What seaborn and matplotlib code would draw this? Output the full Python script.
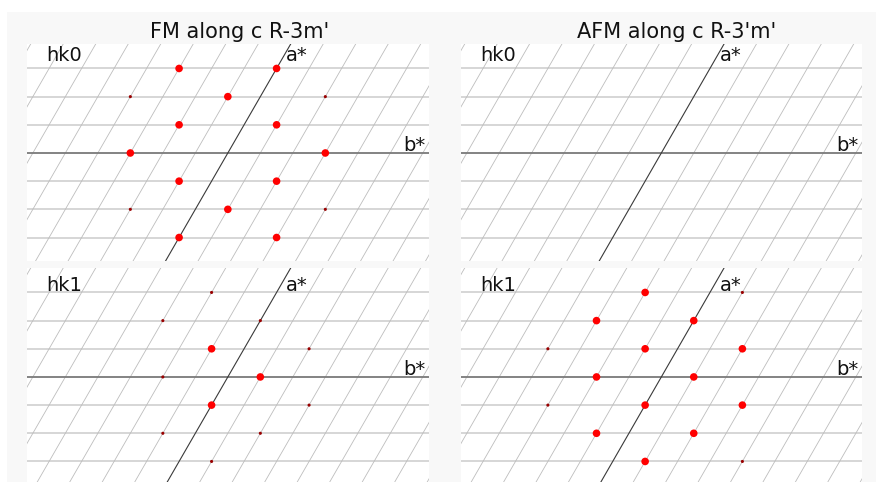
import matplotlib
matplotlib.use('Agg')
import matplotlib.pyplot as plt
import seaborn as sns
import pandas as pd
import numpy as np

sns.set_style('white')
plt.rcParams['font.family'] = ['DejaVu Sans']

# titles and labels of the four panels
titles = ["FM along c R-3m'", "AFM along c R-3'm'"]
layers = ['hk0', 'hk0', 'hk1', 'hk1']

# reflections per panel: h, k and strength ('s' strong, 'w' weak)
fm_hk0_h = [3, 3, 2, 2, 2, 1, 1, 0, 0, -1, -1, -2, -2, -2, -3, -3]
fm_hk0_k = [-3, 0, -4, -1, 2, -2, 1, -3, 3, -1, 2, -2, 1, 4, 0, 3]
fm_hk0_i = ['s', 's', 'w', 's', 'w', 's', 's', 's', 's', 's', 's', 'w', 's', 'w', 's', 's']

afm_hk0_h = []
afm_hk0_k = []
afm_hk0_i = []

fm_hk1_h = [3, 2, 2, 1, 1, 0, 0, -1, -1, -2, -2, -3]
fm_hk1_k = [-2, -3, 0, -1, 2, -2, 1, 0, 3, -1, 2, 1]
fm_hk1_i = ['w', 'w', 'w', 's', 'w', 'w', 's', 's', 'w', 'w', 'w', 'w']

afm_hk1_h = [3, 3, 2, 2, 1, 1, 1, 0, 0, -1, -1, -1, -2, -2, -3, -3]
afm_hk1_k = [-2, 1, -3, 0, -4, -1, 2, -2, 1, -3, 0, 3, -1, 2, 1, 4]
afm_hk1_i = ['s', 'w', 's', 's', 'w', 's', 's', 's', 's', 'w', 's', 's', 's', 's', 's', 'w']

panels = [
    (fm_hk0_h, fm_hk0_k, fm_hk0_i),
    (afm_hk0_h, afm_hk0_k, afm_hk0_i),
    (fm_hk1_h, fm_hk1_k, fm_hk1_i),
    (afm_hk1_h, afm_hk1_k, afm_hk1_i),
]

c60 = 0.5
s60 = np.sqrt(3) / 2

fig = plt.figure(figsize=(8.76, 4.82), dpi=100, facecolor='white')
fig.patches.append(plt.Rectangle((7 / 876, 0), 1, 1 - 12 / 482, transform=fig.transFigure,
                                 facecolor='#f8f8f8', edgecolor='none', zorder=-10))

boxes = [
    [27 / 876, 1 - 261 / 482, 402 / 876, 217 / 482],
    [461 / 876, 1 - 261 / 482, 401 / 876, 217 / 482],
    [27 / 876, 0, 402 / 876, 214 / 482],
    [461 / 876, 0, 401 / 876, 214 / 482],
]
ylims = [(-3.32, 3.35), (-3.32, 3.35), (-3.23, 3.35), (-3.23, 3.35)]
label_y = [2.83, 2.83, 2.65, 2.65]

for n, (hh, kk, ii) in enumerate(panels):
    ax = fig.add_axes(boxes[n])
    ax.set_facecolor('white')
    x0, x1 = -6.18, 6.19
    y0, y1 = ylims[n]

    # horizontal lattice lines (constant h)
    for h in range(-4, 5):
        if h != 0:
            ax.axhline(h * s60, color='#cfcfcf', lw=1.2, zorder=1)
    # slanted lattice lines (constant k)
    yy = np.array([y0 - 1, y1 + 1])
    for k in range(-10, 11):
        if k != 0:
            ax.plot(k + yy / np.sqrt(3), yy, color='#bdbdbd', lw=0.6, zorder=1)
    # a* and b* axes
    ax.axhline(0, color='#7a7a7a', lw=1.3, zorder=2)
    ax.plot(yy / np.sqrt(3), yy, color='#3a3a3a', lw=0.8, zorder=2)

    if len(hh):
        df = pd.DataFrame({'h': hh, 'k': kk, 'I': ii})
        df['X'] = df['k'] + df['h'] * c60
        df['Y'] = df['h'] * s60
        sns.scatterplot(data=df, x='X', y='Y', hue='I', size='I',
                        palette={'s': '#ff0000', 'w': '#990000'},
                        sizes={'s': 30, 'w': 5}, linewidth=0,
                        legend=False, ax=ax, zorder=3)

    ax.text(-5.6, label_y[n], layers[n], fontsize=14, va='baseline', color='#111111', zorder=4)
    ax.text(1.8, label_y[n], 'a*', fontsize=14, va='baseline', color='#111111', zorder=4)
    ax.text(5.4, 0.07, 'b*', fontsize=14, va='baseline', color='#111111', zorder=4)

    ax.set_xlim(x0, x1)
    ax.set_ylim(y0, y1)
    ax.set_xlabel('')
    ax.set_ylabel('')
    ax.set_xticks([])
    ax.set_yticks([])
    for sp in ax.spines.values():
        sp.set_visible(False)

fig.text(240 / 876, 1 - 38 / 482, titles[0], fontsize=15, ha='center', va='baseline', color='#111111')
fig.text(677 / 876, 1 - 38 / 482, titles[1], fontsize=15, ha='center', va='baseline', color='#111111')

fig.savefig('out.png', dpi=100, facecolor=fig.get_facecolor())
